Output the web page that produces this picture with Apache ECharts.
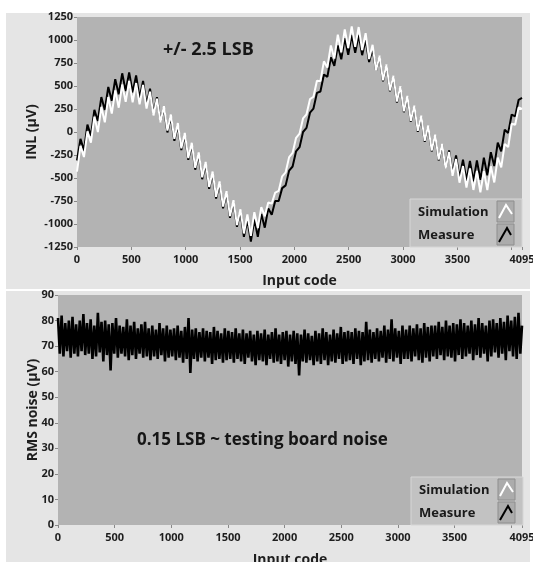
<!DOCTYPE html>
<html><head><meta charset="utf-8">
<script src="https://cdn.jsdelivr.net/npm/echarts@6/dist/echarts.min.js"></script>
<style>html,body{margin:0;padding:0;background:#fff}#c{width:533px;height:562px}</style>
</head><body><div id="c"></div>
<script>
// ---- data ----
const xTickLabels = ['0','500','1000','1500','2000','2500','3000','3500','4095'];
const inlCodes = [0,32,64,96,128,160,192,224,256,288,320,352,384,416,448,480,
512,544,576,608,640,672,704,736,768,800,832,864,896,928,960,992,
1024,1056,1088,1120,1152,1184,1216,1248,1280,1312,1344,1376,1408,1440,1472,1504,
1536,1568,1600,1632,1664,1696,1728,1760,1792,1824,1856,1888,1920,1952,1984,2016,
2048,2080,2112,2144,2176,2208,2240,2272,2304,2336,2368,2400,2432,2464,2496,2528,
2560,2592,2624,2656,2688,2720,2752,2784,2816,2848,2880,2912,2944,2976,3008,3040,
3072,3104,3136,3168,3200,3232,3264,3296,3328,3360,3392,3424,3456,3488,3520,3552,
3584,3616,3648,3680,3712,3744,3776,3808,3840,3872,3904,3936,3968,4000,4032,4064,
4095];
const simulationINL = [-430,-151,-272,7,-115,167,0,272,105,380,200,452,264,516,328,555,
323,532,301,511,255,438,180,363,105,280,15,190,-75,97,-177,-10,
-283,-117,-390,-222,-493,-325,-597,-430,-704,-537,-810,-643,-913,-742,-1011,-840,
-1103,-896,-1130,-872,-1044,-816,-915,-766,-778,-658,-640,-482,-438,-273,-228,-63,
-18,147,192,357,383,558,553,768,701,941,799,1057,866,1116,913,1148,
926,1141,889,1074,793,948,667,830,561,733,452,611,330,497,225,392,
120,287,12,178,-96,70,-201,-30,-299,-129,-398,-218,-476,-294,-551,-370,
-603,-397,-630,-424,-655,-425,-632,-373,-548,-278,-384,-130,-163,89,78,266,
250];
const measureINL = [-310,-75,-200,80,-40,240,120,380,240,490,340,575,410,638,445,648,
430,615,370,555,300,470,200,378,115,260,-5,170,-95,77,-197,-30,
-303,-137,-410,-242,-513,-345,-617,-450,-724,-557,-830,-663,-933,-762,-1031,-865,
-1140,-950,-1190,-950,-1140,-890,-1040,-830,-900,-750,-750,-610,-580,-420,-375,-210,
-165,0,45,210,255,425,440,625,600,810,720,940,790,1020,840,1055,
860,1055,835,1005,760,905,667,820,551,723,442,601,320,487,215,382,
110,277,2,168,-106,60,-211,-40,-309,-135,-395,-200,-450,-255,-500,-300,
-530,-315,-535,-310,-520,-280,-470,-220,-370,-115,-210,25,-10,190,170,350,
370];
const noiseStep = 16;
const measureNoise = [
81,67,82,66,79,68,80,65.5,81.5,67,78.5,66,80,68,82.5,66.5,
79,67,80.5,65,78,66,83,67.5,79.5,64,80,66.5,78.5,60.5,79,67,
81,65.5,78,67,77.5,66,80.5,64.5,78,66.5,79.5,65,77,67,78.5,65.5,
79.5,66,77,64.5,78,66,76.5,65,79,66.5,77,64,78,65.5,76.5,66,
77,64.5,78,65.5,76,63.5,77.5,65,81,59.5,76.5,65,77,64,75.5,65.5,
77,64,76,65.5,75.5,63,77.5,64.5,76,65,75,63.5,77,64.5,76,65,
75.5,63.5,77,65,75,64,76.5,63,75,65.5,76,64,74.5,62.5,76,64.5,
75,64,76.5,62.5,74.5,65,75.5,63.5,77,64,74.5,63,75.5,64.5,76,62,
74.5,64,76,63,75,58.5,74.5,64,76.5,63.5,75,64.5,74,62.5,76,64,
75,63,77,64.5,75.5,62.5,74.5,64,76.5,63.5,75,65,77.5,63,75.5,64,
76,64.5,75.5,63,77,65,76,62.5,75.5,64,79.5,64.5,76.5,63.5,75.5,65,
77,64,76,65.5,78,63.5,76.5,65,80.5,64,77,65.5,76,63,78,65,
76.5,65,78,64,77,66,78.5,64.5,77,63.5,79,65.5,77.5,64,78,66,
78,65,79.5,66.5,77.5,64.5,80,66,78,65.5,79,64,78.5,66.5,80.5,65,
79,66,78,67,80,64.5,78.5,66.5,81,65.5,79,67,78,64,80,66,
80.5,67.5,79,65.5,81,67,79.5,64.5,82,68,80,66,81.5,65,83,67,
78];
// ---- build ----
const simPairs = inlCodes.map((c,i)=>[c, simulationINL[i]]);
const meaPairs = inlCodes.map((c,i)=>[c, measureINL[i]]);
const noisePairs = measureNoise.map((v,i)=>[Math.min(i*noiseStep,4095), v]);

const FONT = 'Open Sans';
const labelStyle = {color:'#1e1e1e', fontFamily:FONT, fontWeight:'bold', fontSize:11};
function xAxis(gridIndex, nameGap){
  return {type:'value', gridIndex, min:0, max:4095, interval:500,
    name:'Input code', nameLocation:'middle', nameGap, nameMoveOverlap:false,
    nameTextStyle:{color:'#1e1e1e', fontFamily:FONT, fontWeight:'bold', fontSize:14},
    axisLine:{show:false, onZero:false}, splitLine:{show:false},
    axisTick:{show:true, length:3, lineStyle:{color:'#888'}},
    axisLabel:Object.assign({margin:7, showMaxLabel:true,
      formatter:v=> xTickLabels.indexOf(String(v))>=0 ? String(v) : ''}, labelStyle)};
}
function yAxis(gridIndex, min, max, interval, name, nameGap){
  return {type:'value', gridIndex, min, max, interval,
    name, nameLocation:'middle', nameGap, nameMoveOverlap:false,
    nameTextStyle:{color:'#1e1e1e', fontFamily:FONT, fontWeight:'bold', fontSize:14},
    axisLine:{show:false, onZero:false}, splitLine:{show:false},
    axisTick:{show:true, length:3, lineStyle:{color:'#888'}},
    axisLabel:Object.assign({margin:4, formatter:v=>String(v)}, labelStyle)};
}
function legendBox(x, y){
  const els = [];
  els.push({type:'rect', z:100, shape:{x:x, y:y, width:112, height:48},
    style:{fill:'#c2c2c2', stroke:'#d6d6d6', lineWidth:1}});
  els.push({type:'text', z:101, style:{x:x+8, y:y+13, text:'Simulation', fill:'#1a1a1a',
    font:'bold 13px "Open Sans"', textVerticalAlign:'middle'}});
  els.push({type:'text', z:101, style:{x:x+8, y:y+36, text:'Measure', fill:'#1a1a1a',
    font:'bold 13px "Open Sans"', textVerticalAlign:'middle'}});
  els.push({type:'rect', z:101, shape:{x:x+87, y:y+2, width:17, height:21},
    style:{fill:'#acacac', stroke:'#8e8e8e', lineWidth:1}});
  els.push({type:'rect', z:101, shape:{x:x+87, y:y+25, width:17, height:21},
    style:{fill:'#acacac', stroke:'#8e8e8e', lineWidth:1}});
  els.push({type:'polyline', z:102, shape:{points:[[x+89,y+19],[x+96,y+6],[x+102,y+15]]},
    style:{stroke:'#ffffff', lineWidth:2, fill:null}});
  els.push({type:'polyline', z:102, shape:{points:[[x+89,y+43],[x+97,y+29],[x+101,y+36]]},
    style:{stroke:'#000000', lineWidth:2, fill:null}});
  return els;
}
const chart = echarts.init(document.getElementById('c'), null, {renderer:'canvas'});
chart.setOption({
  animation:false,
  backgroundColor:'#ffffff',
  graphic:{elements:[
    {type:'rect', z:-100, shape:{x:6, y:13, width:524, height:276}, style:{fill:'#e5e5e5'}},
    {type:'rect', z:-100, shape:{x:6, y:291, width:524, height:271}, style:{fill:'#e5e5e5'}},
    {type:'text', z:50, style:{x:163, y:50, text:'+/- 2.5 LSB', fill:'#161616',
      font:'bold 18px "Open Sans"', textVerticalAlign:'middle'}},
    {type:'text', z:50, style:{x:137, y:440, text:'0.15 LSB ~ testing board noise', fill:'#161616',
      font:'bold 17px "Open Sans"', textVerticalAlign:'middle'}},
    ...legendBox(410, 199),
    ...legendBox(411, 477)
  ]},
  grid:[
    {left:77, top:17, width:445, height:230, show:true, backgroundColor:'#b3b3b3', borderWidth:0,
      outerBoundsMode:'none', containLabel:false},
    {left:58, top:295, width:464, height:230, show:true, backgroundColor:'#b3b3b3', borderWidth:0,
      outerBoundsMode:'none', containLabel:false}
  ],
  xAxis:[xAxis(0, 27), xAxis(1, 28)],
  yAxis:[yAxis(0, -1250, 1250, 250, 'INL (µV)', 38), yAxis(1, 0, 90, 10, 'RMS noise (µV)', 18)],
  series:[
    {name:'Measure', type:'line', xAxisIndex:0, yAxisIndex:0, data:meaPairs, showSymbol:false,
      lineStyle:{color:'#000', width:2}, z:2},
    {name:'Simulation', type:'line', xAxisIndex:0, yAxisIndex:0, data:simPairs, showSymbol:false,
      lineStyle:{color:'#fff', width:2}, z:3},
    {name:'Measure noise', type:'line', xAxisIndex:1, yAxisIndex:1, data:noisePairs, showSymbol:false,
      lineStyle:{color:'#000', width:2.6}, z:2}
  ]
});
</script></body></html>
